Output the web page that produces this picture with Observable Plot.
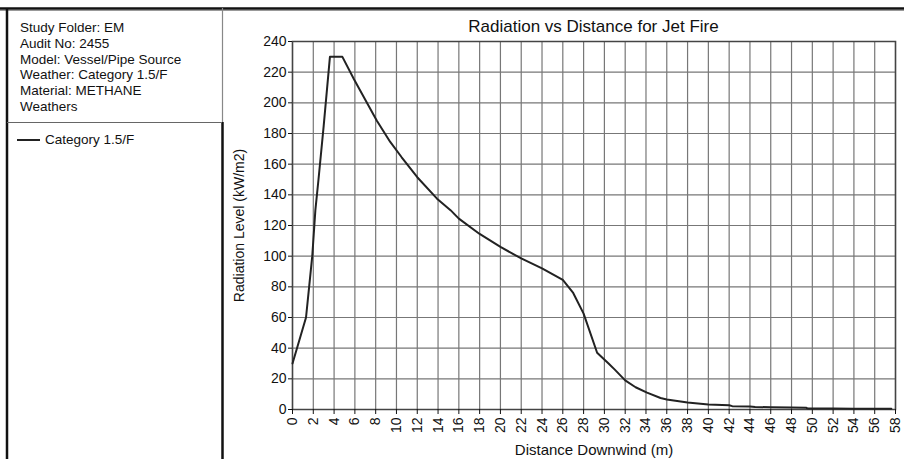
<!DOCTYPE html>
<html>
<head>
<meta charset="utf-8">
<script src="https://cdn.jsdelivr.net/npm/d3@7"></script>
<script src="https://cdn.jsdelivr.net/npm/@observablehq/plot@0.6"></script>
<style>
  html, body { margin: 0; padding: 0; background: #fff; }
  #wrap { position: relative; width: 904px; height: 459px; overflow: hidden; font-family: "Liberation Sans", Arial, sans-serif; color: #111; }
  #wrap svg { position: absolute; left: 0; top: 0; }
  .abs { position: absolute; }
  #info { left: 20px; top: 20px; font-size: 13.5px; line-height: 15.8px; }
  #legend { left: 17px; top: 132px; font-size: 13.5px; display: flex; align-items: center; }
  #legend .sw { width: 23px; height: 0; border-top: 2px solid #222; margin-right: 5px; }
  #title { left: 292px; width: 603px; top: 17px; text-align: center; font-size: 17px; }
</style>
</head>
<body>
<div id="wrap"></div>
<script>
// Data
const distance = [0, 1.3, 1.6, 1.9, 2.2, 2.5, 3.0, 3.6, 4.8, 5.9, 7, 8.1, 9.4, 10.5, 12, 13.9, 15.2, 16, 18, 20, 22, 24, 26, 27, 28, 29.3, 30.4, 31, 32, 33, 34.1, 35.4, 36, 38, 40, 42, 42.3, 44, 44.5, 46, 48, 49.4, 49.6, 52, 54, 56, 57.6];
const radiation = [30, 60, 80, 100, 130, 150, 185, 230, 230, 215.5, 202, 188.5, 174.5, 164.5, 151.5, 137.5, 130, 124.5, 114.5, 106, 98.5, 92, 84.5, 76, 62.5, 37, 30, 26, 19, 14.5, 11, 7.5, 6.5, 4.5, 3.3, 2.8, 2.2, 2.0, 1.6, 1.5, 1.3, 1.1, 0.6, 0.6, 0.5, 0.5, 0.5];
const xTicks = d3.range(0, 59, 2);
const yTicks = d3.range(0, 241, 20);
const infoLines = ["Study Folder: EM", "Audit No: 2455", "Model: Vessel/Pipe Source", "Weather: Category 1.5/F", "Material: METHANE", "Weathers"];
const seriesName = "Category 1.5/F";
const chartTitle = "Radiation vs Distance for Jet Fire";
const xLabel = "Distance Downwind (m)";
const yLabel = "Radiation Level (kW/m2)";

const data = distance.map((d, i) => ({x: d, y: radiation[i]}));

const chart = Plot.plot({
  width: 904,
  height: 459,
  marginLeft: 292,
  marginRight: 9,
  marginTop: 41,
  marginBottom: 50,
  style: {fontFamily: "Liberation Sans, Arial, sans-serif", fontSize: "14px", color: "#111", background: "transparent"},
  x: {domain: [0, 58]},
  y: {domain: [0, 240]},
  marks: [
    Plot.gridX(xTicks, {stroke: "#777", strokeOpacity: 1, strokeWidth: 1.2}),
    Plot.gridY(yTicks, {stroke: "#777", strokeOpacity: 1, strokeWidth: 1.2}),
    Plot.frame({stroke: "#444", strokeWidth: 1.5}),
    Plot.axisX(xTicks, {tickSize: 5, tickRotate: -90, tickPadding: 3, fontSize: 14, label: xLabel, labelAnchor: "center", labelOffset: 45, labelArrow: "none"}),
    Plot.axisY(yTicks, {tickSize: 4, tickPadding: 2, fontSize: 14, label: yLabel, labelAnchor: "center", labelOffset: 58, labelArrow: "none"}),
    Plot.line(data, {x: "x", y: "y", stroke: "#222", strokeWidth: 2})
  ]
});

const wrap = document.getElementById("wrap");
wrap.appendChild(chart);

// Enlarge the x-axis label slightly to match the reference
chart.querySelectorAll("g[aria-label='x-axis label'] text").forEach(t => t.setAttribute("font-size", "15"));

// Panel decoration (borders)
const svgNS = "http://www.w3.org/2000/svg";
const deco = document.createElementNS(svgNS, "svg");
deco.setAttribute("width", 904); deco.setAttribute("height", 459);
deco.innerHTML = `
  <line x1="0" y1="8.5" x2="904" y2="8.5" stroke="#111" stroke-width="2.5"/>
  <line x1="0" y1="10.5" x2="904" y2="10.5" stroke="#999" stroke-width="1"/>
  <line x1="7" y1="8" x2="7" y2="459" stroke="#111" stroke-width="2.5"/>
  <line x1="222.5" y1="8" x2="222.5" y2="122" stroke="#888" stroke-width="1.2"/>
  <line x1="222.5" y1="122" x2="222.5" y2="459" stroke="#111" stroke-width="2.5"/>
  <line x1="7" y1="122.5" x2="222" y2="122.5" stroke="#666" stroke-width="1.2"/>`;
wrap.appendChild(deco);

const info = document.createElement("div");
info.className = "abs"; info.id = "info";
info.innerHTML = infoLines.join("<br>");
wrap.appendChild(info);

const legend = document.createElement("div");
legend.className = "abs"; legend.id = "legend";
legend.innerHTML = `<span class="sw"></span><span>${seriesName}</span>`;
wrap.appendChild(legend);

const title = document.createElement("div");
title.className = "abs"; title.id = "title";
title.textContent = chartTitle;
wrap.appendChild(title);
</script>
</body>
</html>
